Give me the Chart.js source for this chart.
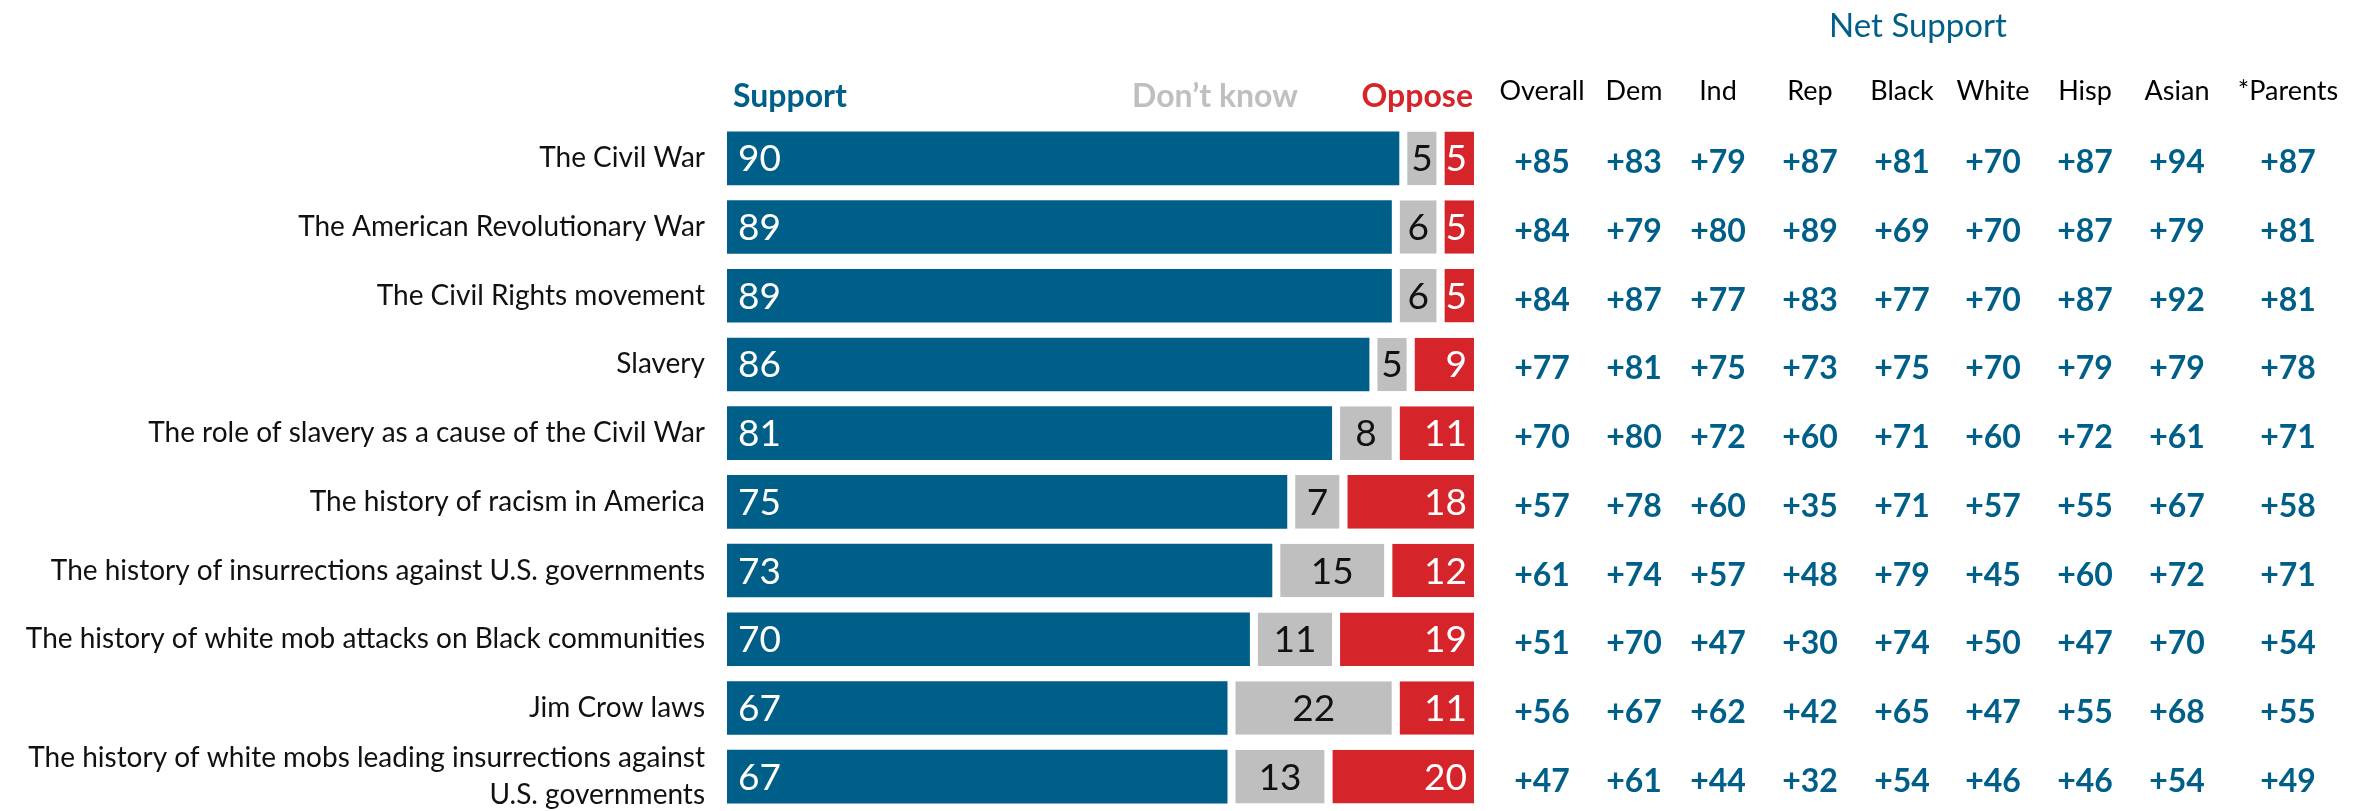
<!DOCTYPE html>
<html lang="en">
<head>
    <meta charset="UTF-8">
    <title>Net Support for teaching history topics</title>
    <script src="https://cdn.jsdelivr.net/npm/chart.js"></script>
    <style>
        body {
            margin: 0;
            background: #fff;
        }
        #chart {
            display: block;
        }
    </style>
</head>
<body>
    <canvas id="chart" width="2359" height="811"></canvas>

    <script>
        // Topics (last one wraps onto two lines)
        var topics = [
            'The Civil War',
            'The American Revolutionary War',
            'The Civil Rights movement',
            'Slavery',
            'The role of slavery as a cause of the Civil War',
            'The history of racism in America',
            'The history of insurrections against U.S. governments',
            'The history of white mob attacks on Black communities',
            'Jim Crow laws',
            ['The history of white mobs leading insurrections against', 'U.S. governments']
        ];

        // Percentages
        var support  = [90, 89, 89, 86, 81, 75, 73, 70, 67, 67];
        var dontKnow = [5, 6, 6, 5, 8, 7, 15, 11, 22, 13];
        var oppose   = [5, 5, 5, 9, 11, 18, 12, 19, 11, 20];

        // Net support by group
        var groupNames = ['Overall', 'Dem', 'Ind', 'Rep', 'Black', 'White', 'Hisp', 'Asian', '*Parents'];
        var netOverall = [85, 84, 84, 77, 70, 57, 61, 51, 56, 47];
        var netDem     = [83, 79, 87, 81, 80, 78, 74, 70, 67, 61];
        var netInd     = [79, 80, 77, 75, 72, 60, 57, 47, 62, 44];
        var netRep     = [87, 89, 83, 73, 60, 35, 48, 30, 42, 32];
        var netBlack   = [81, 69, 77, 75, 71, 71, 79, 74, 65, 54];
        var netWhite   = [70, 70, 70, 70, 60, 57, 45, 50, 47, 46];
        var netHisp    = [87, 87, 87, 79, 72, 55, 60, 47, 55, 46];
        var netAsian   = [94, 79, 92, 79, 61, 67, 72, 70, 68, 54];
        var netParents = [87, 81, 81, 78, 71, 58, 71, 54, 55, 49];

        var netColumns = [netOverall, netDem, netInd, netRep, netBlack, netWhite, netHisp, netAsian, netParents];

        var BLUE = '#005f89';
        var GREY = '#bfbfbf';
        var RED = '#d5242a';
        var FONT = 'Lato, "Noto Sans", sans-serif';

        // Numbers written inside the bars
        var barLabels = {
            id: 'barLabels',
            afterDatasetsDraw: function (chart) {
                var ctx = chart.ctx;
                ctx.save();
                ctx.font = '37px ' + FONT;
                ctx.textBaseline = 'alphabetic';
                chart.data.datasets.forEach(function (ds, di) {
                    chart.getDatasetMeta(di).data.forEach(function (bar, i) {
                        var v = ds.data[i];
                        var y = bar.y + 13;
                        if (di === 0) {
                            ctx.fillStyle = '#fff';
                            ctx.textAlign = 'left';
                            ctx.fillText(v, bar.base + 11, y);
                        } else if (di === 1) {
                            ctx.fillStyle = '#111';
                            ctx.textAlign = 'center';
                            ctx.fillText(v, (bar.base + 8 + bar.x) / 2, y);
                        } else {
                            ctx.fillStyle = '#fff';
                            ctx.textAlign = 'right';
                            ctx.fillText(v, bar.x - 7, y);
                        }
                    });
                });
                ctx.restore();
            }
        };

        // Column headers and the net support table on the right
        var headerAndTable = {
            id: 'headerAndTable',
            afterDraw: function (chart) {
                var ctx = chart.ctx;
                var yScale = chart.scales.y;
                var area = chart.chartArea;
                ctx.save();

                // bar legend headers
                ctx.textBaseline = 'alphabetic';
                ctx.font = 'bold 32px ' + FONT;
                ctx.fillStyle = BLUE;
                ctx.textAlign = 'left';
                ctx.fillText('Support', area.left + 6, 107);
                ctx.fillStyle = GREY;
                ctx.textAlign = 'center';
                ctx.fillText('Don\u2019t know', 1215, 107);
                ctx.fillStyle = RED;
                ctx.textAlign = 'right';
                ctx.fillText('Oppose', area.right - 1, 107);

                // table
                var colX = [1542, 1634, 1718, 1810, 1902, 1993, 2085, 2177, 2288];
                ctx.font = '33px ' + FONT;
                ctx.fillStyle = BLUE;
                ctx.textAlign = 'center';
                ctx.fillText('Net Support', 1918, 37);

                ctx.font = '27px ' + FONT;
                ctx.fillStyle = '#000';
                groupNames.forEach(function (g, c) {
                    ctx.fillText(g, colX[c], 100);
                });

                ctx.font = 'bold 32px ' + FONT;
                ctx.fillStyle = BLUE;
                netColumns.forEach(function (col, c) {
                    col.forEach(function (v, i) {
                        var y = yScale.getPixelForValue(i);
                        ctx.fillText('+' + v, colX[c], y + 15);
                    });
                });

                ctx.restore();
            }
        };

        var ctx = document.getElementById('chart').getContext('2d');
        var chart = new Chart(ctx, {
            type: 'bar',
            data: {
                labels: topics,
                datasets: [{
                    label: 'Support',
                    data: support,
                    backgroundColor: BLUE,
                    borderWidth: 0
                }, {
                    label: 'Don\u2019t know',
                    data: dontKnow,
                    backgroundColor: GREY,
                    borderColor: '#fff',
                    borderWidth: {left: 8, right: 0, top: 0, bottom: 0},
                    borderSkipped: false
                }, {
                    label: 'Oppose',
                    data: oppose,
                    backgroundColor: RED,
                    borderColor: '#fff',
                    borderWidth: {left: 8, right: 0, top: 0, bottom: 0},
                    borderSkipped: false
                }]
            },
            options: {
                indexAxis: 'y',
                responsive: false,
                animation: false,
                layout: {
                    padding: {left: 0, right: 885, top: 124, bottom: 0}
                },
                datasets: {
                    bar: {
                        categoryPercentage: 1,
                        barPercentage: 0.78
                    }
                },
                scales: {
                    x: {
                        stacked: true,
                        min: 0,
                        max: 100,
                        display: false
                    },
                    y: {
                        stacked: true,
                        grid: {display: false},
                        border: {display: false},
                        ticks: {
                            autoSkip: false,
                            padding: 14,
                            color: '#111',
                            font: {family: FONT, size: 28, lineHeight: 1.3}
                        },
                        afterFit: function (scale) {
                            scale.width = 727;
                            // let the wrapped last label run past the bottom edge
                            scale.paddingTop = 0;
                            scale.paddingBottom = 0;
                        }
                    }
                },
                plugins: {
                    legend: {display: false},
                    tooltip: {enabled: false}
                }
            },
            plugins: [barLabels, headerAndTable]
        });
    </script>
</body>
</html>
